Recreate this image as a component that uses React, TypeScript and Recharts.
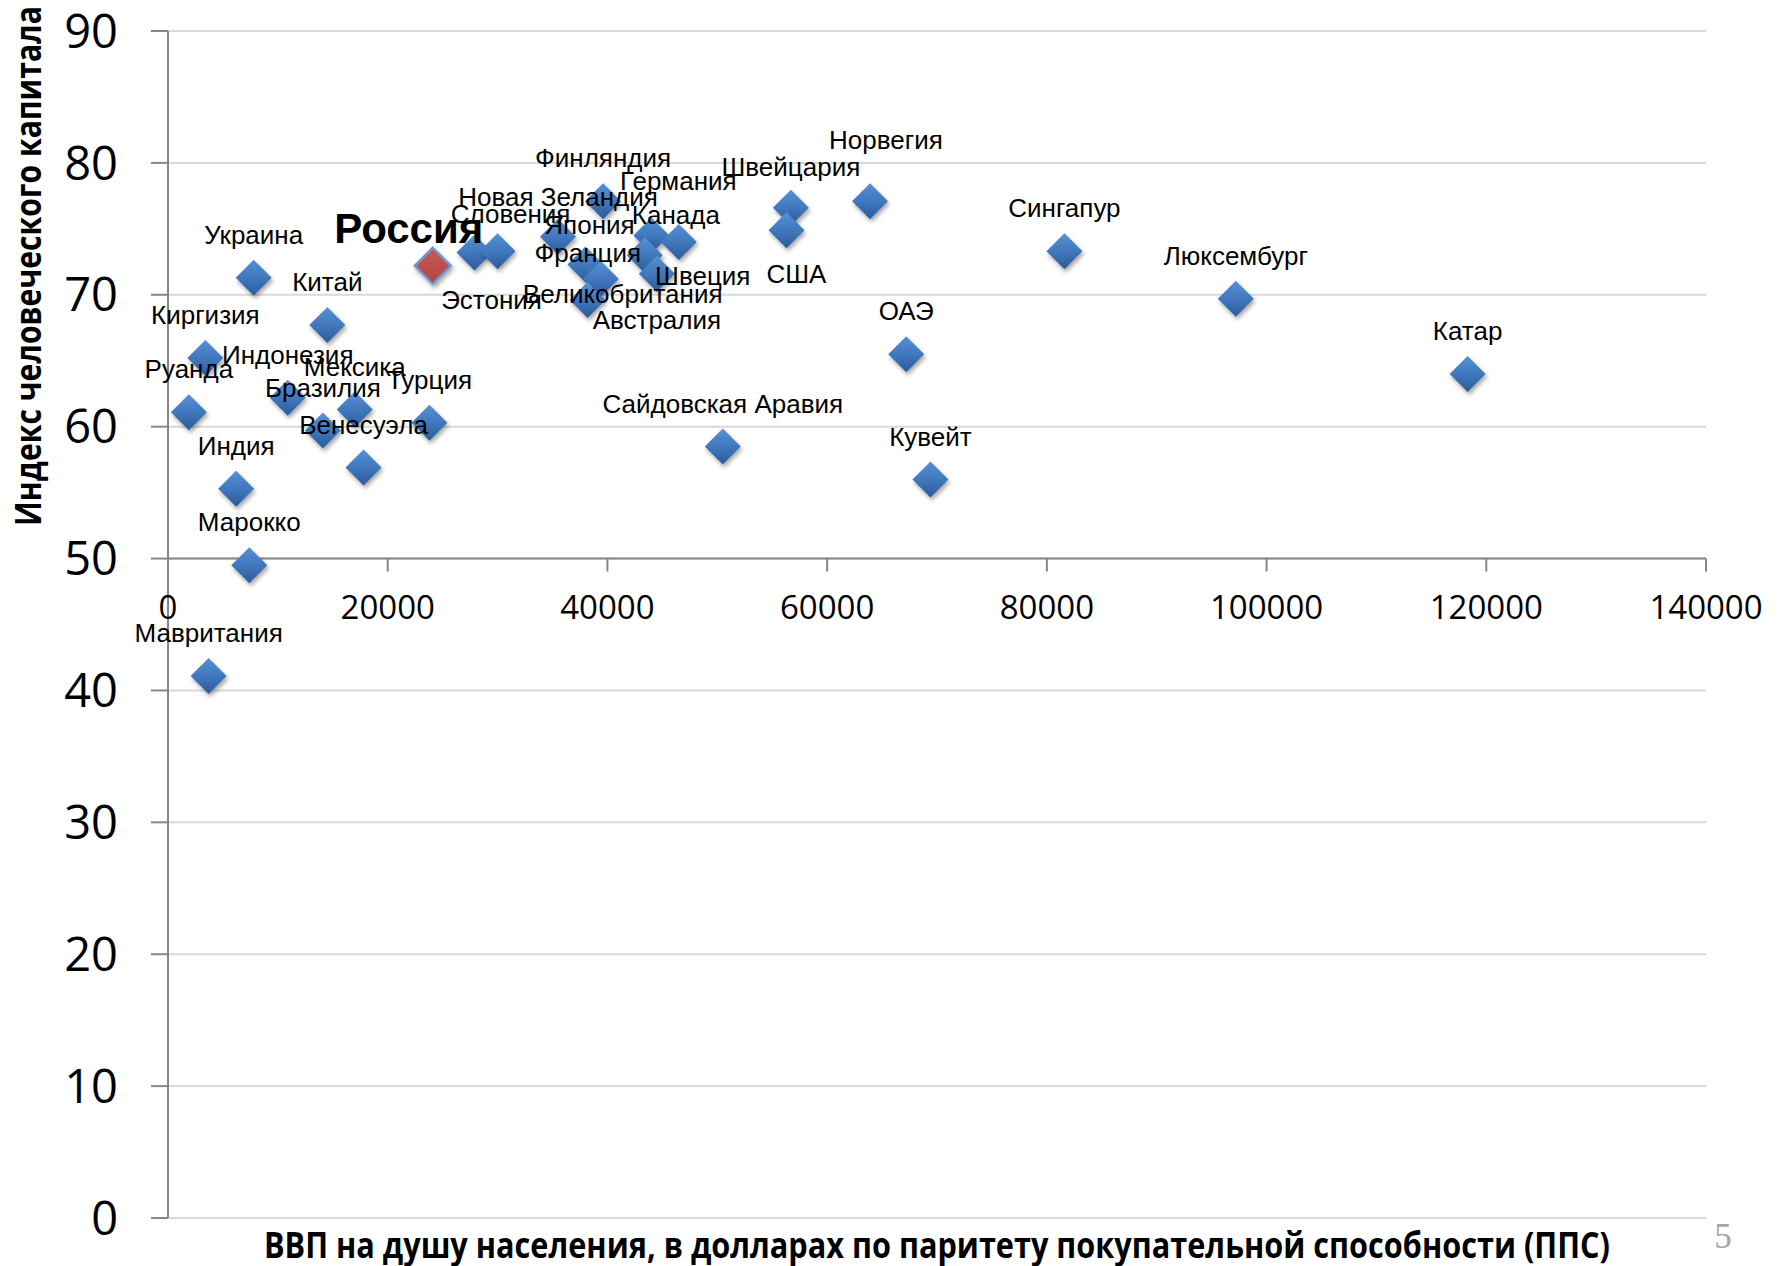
import React from 'react';
import { ScatterChart, Scatter, XAxis, YAxis, CartesianGrid, ReferenceLine, ReferenceDot } from 'recharts';

const countries = [
  'Мавритания', 'Марокко', 'Индия', 'Руанда', 'Киргизия', 'Украина', 'Китай', 'Индонезия',
  'Бразилия', 'Мексика', 'Венесуэла', 'Турция', 'Россия', 'Эстония', 'Словения', 'Новая Зеландия',
  'Финляндия', 'Япония', 'Франция', 'Великобритания', 'Германия', 'Канада', 'Швеция', 'Австралия',
  'Швейцария', 'США', 'Норвегия', 'Сайдовская Аравия', 'ОАЭ', 'Кувейт', 'Сингапур', 'Люксембург', 'Катар',
];
const gdpPpp = [
  3700, 7400, 6200, 1900, 3400, 7800, 14500, 10900,
  14100, 17000, 17800, 23800, 24100, 27900, 30000, 35500,
  39600, 38000, 39400, 38200, 44000, 46500, 43400, 44500,
  56700, 56300, 63900, 50500, 67200, 69400, 81600, 97200, 118300,
];
const hci = [
  41.1, 49.5, 55.3, 61.1, 65.2, 71.3, 67.7, 62.2,
  59.7, 61.3, 56.9, 60.3, 72.2, 73.2, 73.3, 74.4,
  77.1, 72.3, 71.2, 69.6, 74.5, 74.0, 73.0, 71.6,
  76.6, 74.9, 77.1, 58.5, 65.5, 56.0, 73.3, 69.7, 64.0,
];
const highlighted = 'Россия';
const xTicks = [0, 20000, 40000, 60000, 80000, 100000, 120000, 140000];
const yTicks = [0, 10, 20, 30, 40, 50, 60, 70, 80, 90];
const xAxisCross = 50;
const xAxisTitle = 'ВВП на душу населения, в долларах по паритету покупательной способности (ППС)';
const yAxisTitle = 'Индекс человеческого капитала';
const pageNumber = '5';

// label placement relative to its marker (layout only)
const labelOffsets: Record<string, [number, number]> = {
  'Россия': [-24, -38],
  'Эстония': [17, 47],
  'Словения': [13, -37],
  'Новая Зеландия': [0, -40],
  'Япония': [4, -40],
  'Франция': [-13, -26],
  'Великобритания': [35, -6],
  'Германия': [27, -55],
  'Канада': [-3, -27],
  'Швеция': [58, 21],
  'Австралия': [0, 46],
  'США': [10, 44],
  'Норвегия': [16, -61],
  'Швейцария': [0, -41],
};
const defaultOffset: [number, number] = [0, -43];

const points = countries.map((name, i) => ({ name, gdp: gdpPpp[i], hci: hci[i] }));
const regularPoints = points.filter((p) => p.name !== highlighted);
const highlightPoints = points.filter((p) => p.name === highlighted);

const W = 1775;
const H = 1258;
const AXIS = '#868686';
const GRID = '#d9d9d9';
const R = 18;

const diamondPath = (cx: number, cy: number) =>
  `M${cx},${cy - R} L${cx + R},${cy} L${cx},${cy + R} L${cx - R},${cy} Z`;

const BlueDiamond = (props: any) => {
  const { cx, cy } = props;
  if (cx == null || cy == null) return null;
  return <path d={diamondPath(cx, cy)} fill="url(#blueGrad)" filter="url(#dshadow)" />;
};

const RedDiamond = (props: any) => {
  const { cx, cy } = props;
  if (cx == null || cy == null) return null;
  return (
    <path d={diamondPath(cx, cy)} fill="url(#redGrad)" stroke="#6e98cf" strokeWidth={2.5} filter="url(#dshadow)" />
  );
};

const PointLabel = (props: any) => {
  const { cx, cy, payload } = props;
  if (cx == null || cy == null || !payload) return null;
  const name = payload.name as string;
  const [dx, dy] = labelOffsets[name] || defaultOffset;
  const bold = name === highlighted;
  const fs = bold ? 42 : 26;
  return (
    <text
      x={cx + dx}
      y={cy + dy + 0.355 * fs}
      textAnchor="middle"
      fontFamily="'Liberation Sans', Arial, sans-serif"
      fontSize={fs}
      fontWeight={bold ? 700 : 400}
      fill="#000"
    >
      {name}
    </text>
  );
};

const XTick = (value: number) => (props: any) => {
  const { cx, cy } = props;
  if (cx == null || cy == null) return null;
  return (
    <g>
      <line x1={cx} y1={cy} x2={cx} y2={cy + 13} stroke={AXIS} strokeWidth={2} />
      <text
        x={cx}
        y={cy + 49 + 0.357 * 33}
        textAnchor="middle"
        fontFamily="'Open Sans', sans-serif"
        fontSize={33}
        fill="#000"
      >
        {String(value)}
      </text>
    </g>
  );
};

export default function App() {
  return (
    <div style={{ position: 'relative', width: W, height: H }}>
      <svg width={0} height={0} style={{ position: 'absolute' }}>
        <defs>
          <linearGradient id="blueGrad" x1="0" y1="0" x2="0" y2="1">
            <stop offset="0%" stopColor="#5890d3" />
            <stop offset="50%" stopColor="#4178be" />
            <stop offset="100%" stopColor="#2b5a99" />
          </linearGradient>
          <linearGradient id="redGrad" x1="0" y1="0" x2="0" y2="1">
            <stop offset="0%" stopColor="#cc5b57" />
            <stop offset="100%" stopColor="#b2423f" />
          </linearGradient>
          <filter id="dshadow" x="-50%" y="-50%" width="200%" height="200%">
            <feDropShadow dx="1.5" dy="3" stdDeviation="2" floodColor="#000" floodOpacity="0.35" />
          </filter>
        </defs>
      </svg>
      <ScatterChart
        width={W}
        height={H}
        margin={{ top: 23, right: 77, bottom: 48, left: 0 }}
        style={{ overflow: 'visible' }}
      >
        <CartesianGrid horizontal vertical={false} stroke={GRID} strokeWidth={2} />
        <XAxis type="number" dataKey="gdp" domain={[0, 140000]} ticks={xTicks} hide />
        <YAxis
          type="number"
          dataKey="hci"
          domain={[0, 90]}
          ticks={yTicks}
          interval={0}
          width={160}
          axisLine={{ stroke: AXIS, strokeWidth: 2 }}
          tickLine={{ stroke: AXIS, strokeWidth: 2 }}
          tickSize={17}
          tickMargin={33}
          tick={{ fontSize: 47, fontFamily: "'Open Sans', sans-serif", fill: '#000' }}
        />
        <ReferenceLine y={xAxisCross} stroke={AXIS} strokeWidth={2} />
        {xTicks.map((t) => (
          <ReferenceDot key={t} x={t} y={xAxisCross} r={1} shape={XTick(t)} />
        ))}
        <Scatter data={regularPoints} shape={BlueDiamond} isAnimationActive={false} />
        <Scatter data={highlightPoints} shape={RedDiamond} isAnimationActive={false} />
        <Scatter data={points} shape={PointLabel} isAnimationActive={false} />
      </ScatterChart>
      <svg
        width={W}
        height={H}
        style={{ position: 'absolute', left: 0, top: 0, pointerEvents: 'none', overflow: 'visible' }}
      >
        <text
          transform="translate(33,258) rotate(-90)"
          textAnchor="middle"
          fontFamily="'Liberation Sans Narrow', 'Open Sans', sans-serif"
          fontWeight={700}
          fontSize={35}
          textLength={520}
          lengthAdjust="spacingAndGlyphs"
          fill="#000"
        >
          {yAxisTitle}
        </text>
        <text
          x={929}
          y={1250}
          textAnchor="middle"
          fontFamily="'Liberation Sans Narrow', 'Open Sans', sans-serif"
          fontWeight={700}
          fontSize={35}
          textLength={1346}
          lengthAdjust="spacingAndGlyphs"
          fill="#000"
        >
          {xAxisTitle}
        </text>
        <text
          x={1715}
          y={1240}
          textAnchor="middle"
          fontFamily="'Liberation Serif', serif"
          fontSize={35}
          fill="#a6a6a6"
        >
          {pageNumber}
        </text>
      </svg>
    </div>
  );
}
